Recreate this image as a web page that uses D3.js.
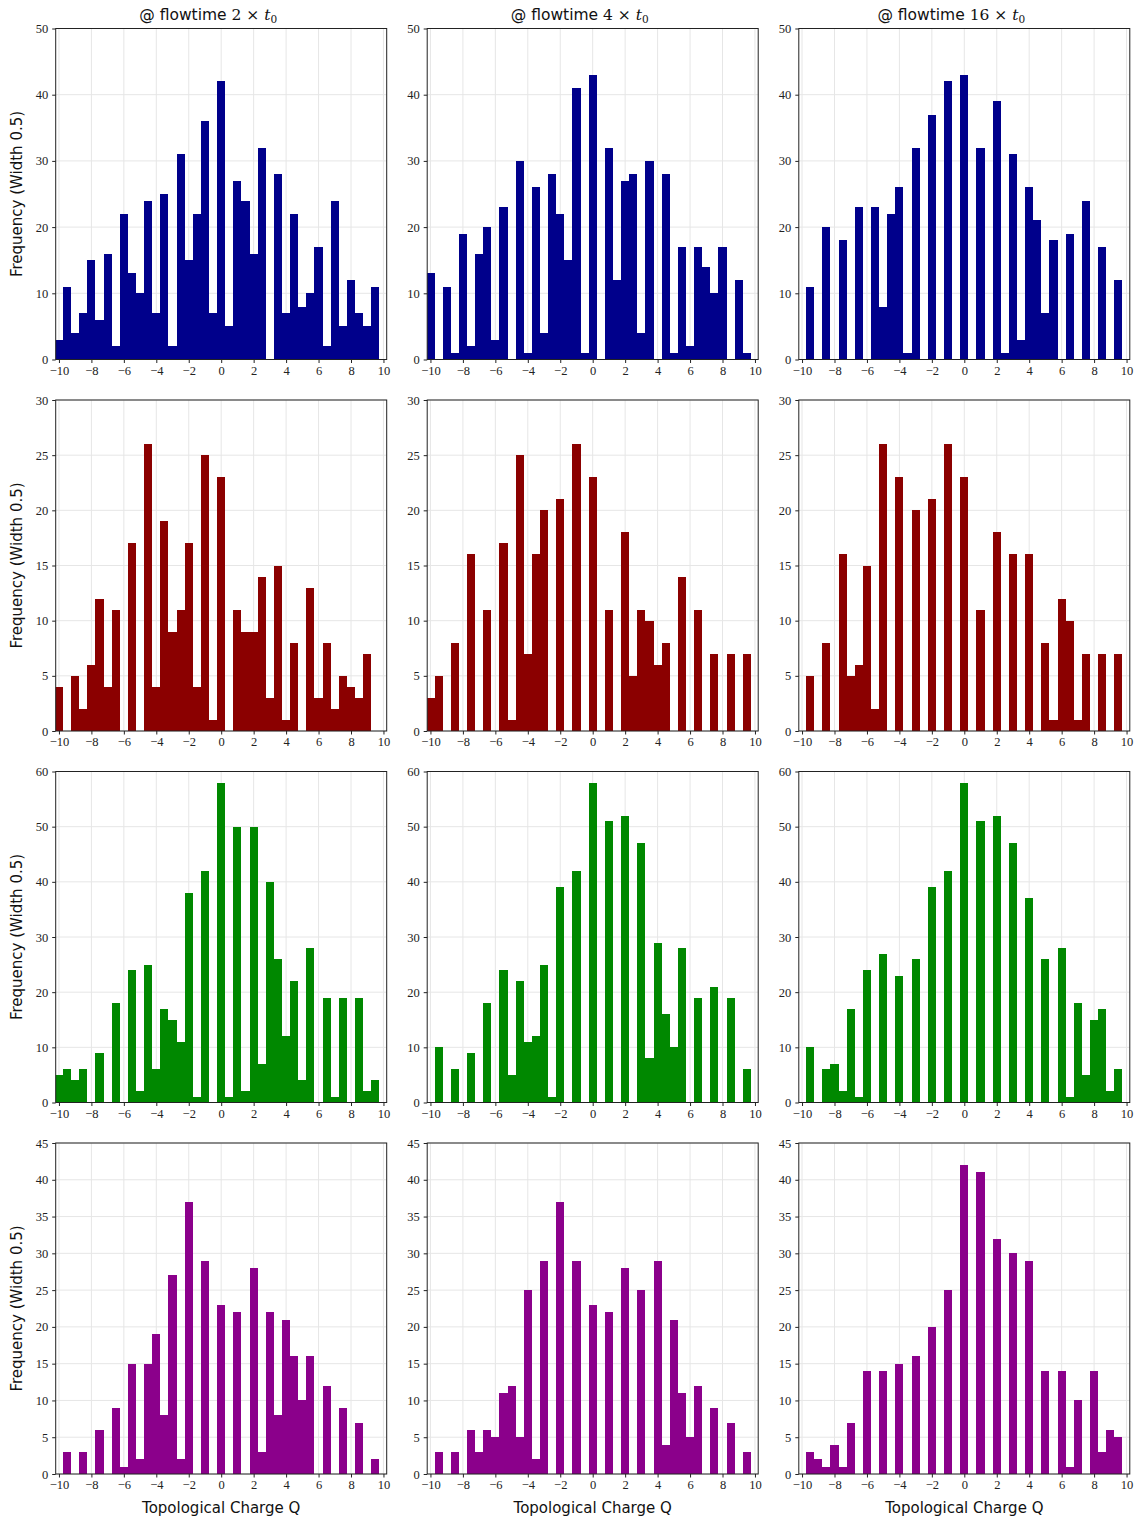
<!DOCTYPE html>
<html>
<head>
<meta charset="utf-8">
<script src="https://cdn.jsdelivr.net/npm/d3@7"></script>
<style>
  body { margin: 0; background: #fff; }
  .grid line { stroke: #e6e6e6; stroke-width: 1; }
  .axis path { display: none; }
  .axis line { stroke: #222; }
  .axis text { font-family: 'Liberation Serif', serif; font-size: 12.5px; fill: #222; }
  .frame { fill: none; stroke: #222; stroke-width: 1; }
  .bars rect { shape-rendering: crispEdges; }
  .title { font-family: 'DejaVu Sans', sans-serif; font-size: 15.5px; fill: #111; }
  .label { font-family: 'DejaVu Sans', sans-serif; font-size: 15px; fill: #111; }
</style>
</head>
<body>
<svg id="chart" width="1141" height="1522"></svg>
<script>
// histogram bins: first left edge and width
const binStart = -10.25;
const binWidth = 0.5;

// columns: flowtime in units of t0
const flowtimes = [2, 4, 16];

// tick labels
const xTicks = [-10, -8, -6, -4, -2, 0, 2, 4, 6, 8, 10];
const yTicksBlue = [0, 10, 20, 30, 40, 50];
const yTicksRed = [0, 5, 10, 15, 20, 25, 30];
const yTicksGreen = [0, 10, 20, 30, 40, 50, 60];
const yTicksPurple = [0, 5, 10, 15, 20, 25, 30, 35, 40, 45];

// counts per bin (40 bins, Q = -10 ... 9.5)
const blueT2 = [3, 11, 4, 7, 15, 6, 16, 2, 22, 13, 10, 24, 7, 25, 2, 31, 15, 22, 36, 7,
  42, 5, 27, 24, 16, 32, 0, 28, 7, 22, 8, 10, 17, 2, 24, 5, 12, 7, 5, 11];
const blueT4 = [13, 0, 11, 1, 19, 2, 16, 20, 3, 23, 0, 30, 1, 26, 4, 28, 22, 15, 41, 1,
  43, 0, 32, 12, 27, 28, 4, 30, 0, 28, 1, 17, 2, 17, 14, 10, 17, 0, 12, 1];
const blueT16 = [0, 11, 0, 20, 0, 18, 0, 23, 0, 23, 8, 22, 26, 1, 32, 0, 37, 0, 42, 0,
  43, 0, 32, 0, 39, 1, 31, 3, 26, 21, 7, 18, 0, 19, 0, 24, 0, 17, 0, 12];

const redT2 = [4, 0, 5, 2, 6, 12, 4, 11, 0, 17, 0, 26, 4, 19, 9, 11, 17, 4, 25, 1,
  23, 0, 11, 9, 9, 14, 3, 15, 1, 8, 0, 13, 3, 8, 2, 5, 4, 3, 7, 0];
const redT4 = [3, 5, 0, 8, 0, 16, 0, 11, 0, 17, 1, 25, 7, 16, 20, 0, 21, 0, 26, 0,
  23, 0, 11, 0, 18, 5, 11, 10, 6, 8, 0, 14, 0, 11, 0, 7, 0, 7, 0, 7];
const redT16 = [0, 5, 0, 8, 0, 16, 5, 6, 15, 2, 26, 0, 23, 0, 20, 0, 21, 0, 26, 0,
  23, 0, 11, 0, 18, 0, 16, 0, 16, 0, 8, 1, 12, 10, 1, 7, 0, 7, 0, 7];

const greenT2 = [5, 6, 4, 6, 0, 9, 0, 18, 0, 24, 2, 25, 6, 17, 15, 11, 38, 1, 42, 0,
  58, 1, 50, 2, 50, 7, 40, 26, 12, 22, 4, 28, 0, 19, 1, 19, 0, 19, 2, 4];
const greenT4 = [0, 10, 0, 6, 0, 9, 0, 18, 0, 24, 5, 22, 11, 12, 25, 1, 39, 0, 42, 0,
  58, 0, 51, 0, 52, 0, 47, 8, 29, 16, 10, 28, 0, 19, 0, 21, 0, 19, 0, 6];
const greenT16 = [0, 10, 0, 6, 7, 2, 17, 1, 24, 0, 27, 0, 23, 0, 26, 0, 39, 0, 42, 0,
  58, 0, 51, 0, 52, 0, 47, 0, 37, 0, 26, 0, 28, 1, 18, 5, 15, 17, 2, 6];

const purpleT2 = [0, 3, 0, 3, 0, 6, 0, 9, 1, 15, 2, 15, 19, 8, 27, 2, 37, 0, 29, 0,
  23, 0, 22, 0, 28, 3, 22, 8, 21, 16, 10, 16, 0, 12, 0, 9, 0, 7, 0, 2];
const purpleT4 = [0, 3, 0, 3, 0, 6, 3, 6, 5, 11, 12, 5, 25, 2, 29, 0, 37, 0, 29, 0,
  23, 0, 22, 0, 28, 0, 25, 0, 29, 4, 21, 11, 5, 12, 0, 9, 0, 7, 0, 3];
const purpleT16 = [0, 3, 2, 1, 4, 1, 7, 0, 14, 0, 14, 0, 15, 0, 16, 0, 20, 0, 25, 0,
  42, 0, 41, 0, 32, 0, 30, 0, 29, 0, 14, 0, 14, 1, 10, 0, 14, 3, 6, 5];

const rows = [
  { color: '#00008b', yTicks: yTicksBlue, series: [blueT2, blueT4, blueT16] },
  { color: '#8b0000', yTicks: yTicksRed, series: [redT2, redT4, redT16] },
  { color: '#008800', yTicks: yTicksGreen, series: [greenT2, greenT4, greenT16] },
  { color: '#8b008b', yTicks: yTicksPurple, series: [purpleT2, purpleT4, purpleT16] },
];

// panel grid
const colLeft = [55.7, 427.2, 798.8];
const rowTop = [28.5, 400, 771.5, 1143];
const panelW = 331;
const panelH = 331;

const svg = d3.select('#chart');

function panel(parent, counts, opts) {
  const { left, top, color, yTicks, id } = opts;

  const x = d3.scaleLinear().domain([-10.2, 10.2]).range([0, panelW]);
  const y = d3.scaleLinear().domain([0, d3.max(yTicks)]).range([panelH, 0]);

  const g = parent.append('g')
      .attr('transform', `translate(${left}, ${top})`);

  g.append('defs').append('clipPath')
      .attr('id', `clip${id}`)
    .append('rect')
      .attr('width', panelW)
      .attr('height', panelH);

  // grid
  const grid = g.append('g').attr('class', 'grid');
  grid.selectAll('.gx')
    .data(xTicks)
    .join('line')
      .attr('x1', d => x(d)).attr('x2', d => x(d))
      .attr('y1', 0).attr('y2', panelH);
  grid.selectAll('.gy')
    .data(yTicks)
    .join('line')
      .attr('x1', 0).attr('x2', panelW)
      .attr('y1', d => y(d)).attr('y2', d => y(d));

  // bars
  const bins = counts.map((c, i) => ({ x0: binStart + i * binWidth, n: c }));
  g.append('g')
      .attr('class', 'bars')
      .attr('clip-path', `url(#clip${id})`)
    .selectAll('rect')
    .data(bins.filter(d => d.n > 0))
    .join('rect')
      .attr('x', d => x(d.x0))
      .attr('width', d => x(d.x0 + binWidth) - x(d.x0))
      .attr('y', d => y(d.n))
      .attr('height', d => y(0) - y(d.n))
      .attr('fill', color);

  // xAxis
  g.append('g')
      .attr('class', 'x axis')
      .attr('transform', `translate(0, ${panelH})`)
      .call(d3.axisBottom(x).tickValues(xTicks).tickSize(3.5).tickPadding(3));

  // yAxis
  g.append('g')
      .attr('class', 'y axis')
      .call(d3.axisLeft(y).tickValues(yTicks).tickSize(3.5).tickPadding(4));

  g.append('rect')
      .attr('class', 'frame')
      .attr('width', panelW)
      .attr('height', panelH);
}

rows.forEach((row, r) => {
  row.series.forEach((counts, c) => {
    panel(svg, counts, {
      left: colLeft[c],
      top: rowTop[r],
      color: row.color,
      yTicks: row.yTicks,
      id: `${r}${c}`,
    });
  });

  // y label
  svg.append('text')
      .attr('class', 'label')
      .attr('text-anchor', 'middle')
      .attr('transform', `translate(22, ${rowTop[r] + panelH / 2}) rotate(-90)`)
      .text('Frequency (Width 0.5)');
});

flowtimes.forEach((t, c) => {
  // column titles
  const title = svg.append('text')
      .attr('class', 'title')
      .attr('text-anchor', 'middle')
      .attr('x', colLeft[c] + panelW / 2 - 13)
      .attr('y', 20);
  title.append('tspan').text('@ flowtime ');
  title.append('tspan')
      .style('font-family', "'DejaVu Serif', serif")
      .text(`${t} × `);
  title.append('tspan')
      .style('font-family', "'DejaVu Serif', serif")
      .style('font-style', 'italic')
      .text('t');
  title.append('tspan')
      .style('font-family', "'DejaVu Serif', serif")
      .style('font-size', '10.5px')
      .attr('dy', 3)
      .text('0');

  // x label
  svg.append('text')
      .attr('class', 'label')
      .attr('text-anchor', 'middle')
      .attr('x', colLeft[c] + panelW / 2)
      .attr('y', 1513)
      .text('Topological Charge Q');
});
</script>
</body>
</html>
